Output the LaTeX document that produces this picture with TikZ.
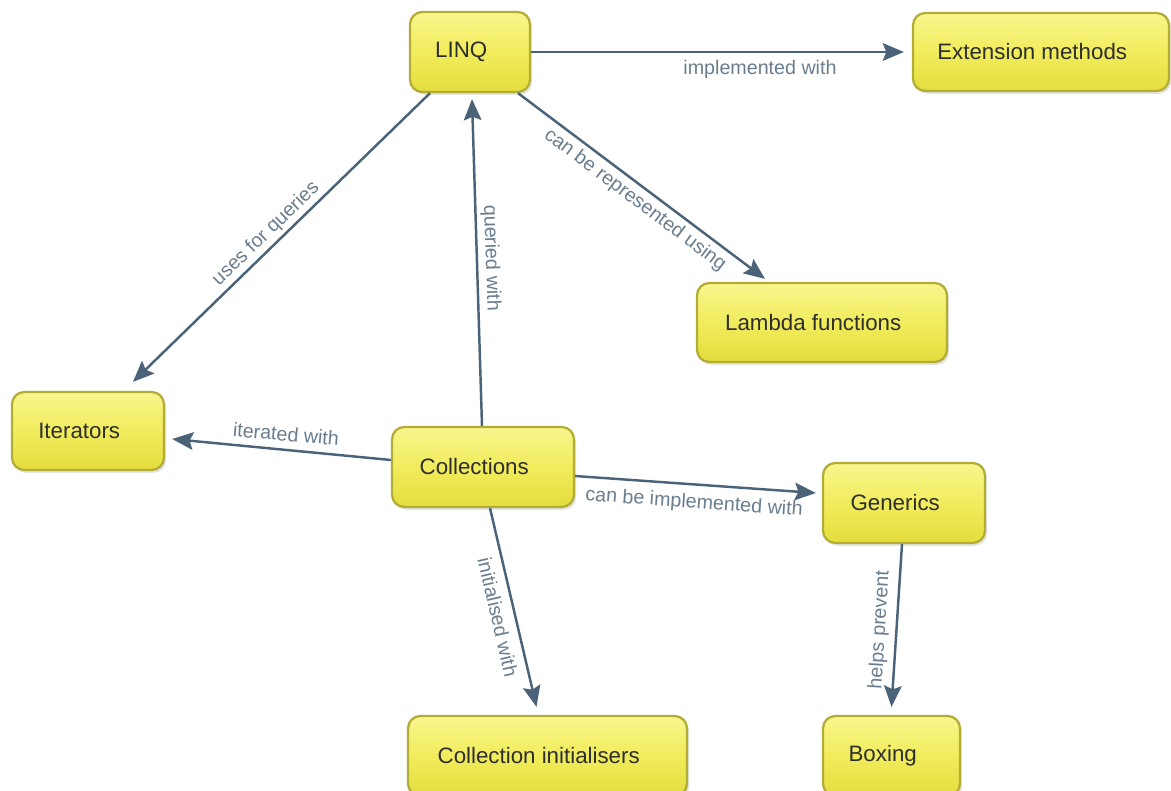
\documentclass[tikz,border=0pt]{standalone}
\usepackage{fontspec}
\setmainfont{Liberation Sans}
\usetikzlibrary{arrows.meta,calc,shadows}
\definecolor{ytop}{HTML}{F9F68E}
\definecolor{ymid}{HTML}{F1EC5C}
\definecolor{ybot}{HTML}{E4DD3E}
\definecolor{yborder}{HTML}{B3AD35}
\definecolor{ntext}{HTML}{2E2E2E}
\definecolor{arrowc}{HTML}{4B6378}
\definecolor{labc}{HTML}{6A7E8F}
\tikzset{
  concept/.style={draw=yborder, line width=1.3pt, rounded corners=7pt,
    top color=ytop, bottom color=ybot, middle color=ymid,
    minimum height=1.6cm, inner sep=0pt, text=ntext,
    font=\fontsize{12.7}{15}\selectfont,
    drop shadow={opacity=0.22, shadow xshift=1.2pt, shadow yshift=-1.6pt}},
  conn/.style={draw=arrowc, line width=1.4pt,
    -{Stealth[length=12pt, width=10pt, inset=2pt]}},
  lab/.style={text=labc, font=\fontsize{11.2}{13}\selectfont, inner sep=0pt}
}
\newcommand{\ct}[1]{#1\rule{10pt}{0pt}}
\begin{document}
\begin{tikzpicture}[x=0.02cm, y=-0.02cm]
\useasboundingbox (0,0) rectangle (1171,791);
\fill[white] (0,0) rectangle (1171,791);

\node[concept, minimum width=2.40cm] (LINQ) at (470,52) {\ct{LINQ}};
\node[concept, minimum width=5.12cm, minimum height=1.56cm] (Ext) at (1041,52) {\ct{Extension methods}};
\node[concept, minimum width=5.00cm, minimum height=1.58cm] (Lam) at (822,322.5) {\ct{Lambda functions}};
\node[concept, minimum width=3.04cm, minimum height=1.56cm] (Iter) at (88,431) {\ct{Iterators}};
\node[concept, minimum width=3.64cm] (Coll) at (483,467) {\ct{Collections}};
\node[concept, minimum width=3.24cm] (Gen) at (904,503) {\ct{Generics}};
\node[concept, minimum width=5.58cm] (CI) at (547.5,756) {\ct{Collection initialisers}};
\node[concept, minimum width=2.74cm] (Box) at (891.5,756) {\ct{Boxing}};

\draw[conn] (LINQ.east) -- ($(Ext.west)+(-8,0)$)
  node[lab] at (760,69) {implemented with};
\draw[conn] ($(LINQ.south)+(48,0)$) -- ($(Lam.north)+(-57,-3)$)
  node[lab, rotate=-37] at (635,200) {can be represented using};
\draw[conn] ($(LINQ.south)+(-40,0)$) -- ($(Iter.north)+(45,-9)$)
  node[lab, rotate=44] at (266,234) {uses for queries};
\draw[conn] ($(Coll.north)+(-1,0)$) -- ($(LINQ.south)+(2,6)$)
  node[lab, rotate=-88] at (491,258) {queried with};
\draw[conn] ($(Coll.west)+(0,-7)$) -- ($(Iter.east)+(7,8)$)
  node[lab, rotate=-5] at (286,434) {iterated with};
\draw[conn] ($(Coll.east)+(0,9)$) -- ($(Gen.west)+(-6,-10)$)
  node[lab, rotate=-4] at (694,503) {can be implemented with};
\draw[conn] ($(Coll.south)+(7,0)$) -- ($(CI.north)+(-11,-8)$)
  node[lab, rotate=-77] at (498,617) {initialised with};
\draw[conn] ($(Gen.south)+(-2,0)$) -- ($(Box.north)+(0,-8)$)
  node[lab, rotate=86.5] at (880,630) {helps prevent};
\end{tikzpicture}
\end{document}
